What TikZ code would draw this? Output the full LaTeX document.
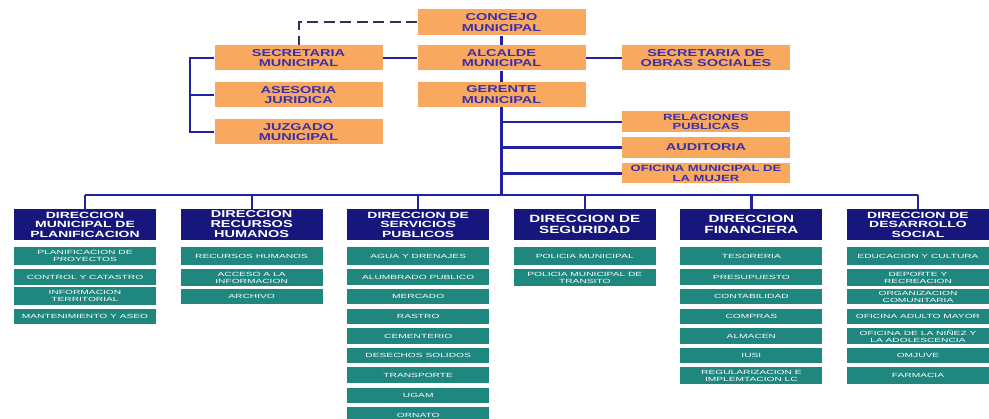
\documentclass[tikz,border=0pt]{standalone}
\usepackage{fontspec}
\setmainfont{Liberation Sans}
\newfontfamily\OrgSans[FakeStretch=1.45]{Liberation Sans}
\newfontfamily\DirSans[FakeStretch=1.55]{Liberation Sans}
\newfontfamily\SubSans[FakeStretch=1.7]{Liberation Sans}
\usetikzlibrary{backgrounds}
\definecolor{orng}{HTML}{F9A860}
\definecolor{ortxt}{HTML}{3B30A8}
\definecolor{navybox}{HTML}{16167C}
\definecolor{tealbox}{HTML}{20877F}
\definecolor{linec}{HTML}{2222A0}
\definecolor{dashc}{HTML}{33335A}
\newcommand\subnode[5]{\node[subbox,minimum height=#4pt] (#1) at (#2,#3) {#5};}
\def\cxA{85}\def\cxB{251.6}\def\cxC{418.2}\def\cxD{584.8}\def\cxE{751.4}\def\cxF{918}
\def\rA{256}\def\rB{277.5}\def\rC{296.5}\def\rD{316.5}\def\rE{336}
\def\rF{355.5}\def\rG{375.5}\def\rH{395.5}\def\rI{415}
\begin{document}
\begin{tikzpicture}[x=1pt,y=-1pt,
  orgbox/.style={fill=orng, text=ortxt, font=\OrgSans\bfseries\fontsize{10}{10.8}\selectfont,
    align=center, inner sep=0pt, minimum width=168pt, minimum height=25pt},
  orgsmall/.style={orgbox, font=\OrgSans\bfseries\fontsize{9}{9.4}\selectfont, minimum height=21pt},
  dirbox/.style={fill=navybox, text=white, font=\DirSans\bfseries\fontsize{9}{9.5}\selectfont,
    align=center, inner sep=0pt, minimum width=142pt, minimum height=31pt},
  dirbig/.style={dirbox, font=\OrgSans\bfseries\fontsize{10}{10}\selectfont},
  subbox/.style={fill=tealbox, text=white, font=\SubSans\fontsize{6}{7}\selectfont,
    align=center, inner sep=0pt, minimum width=142pt},
  conn/.style={draw=linec, line width=2.2pt},
  spine/.style={draw=navybox, line width=3pt},
  dashconn/.style={draw=dashc, line width=2pt, dash pattern=on 11pt off 5.5pt}]
\useasboundingbox[fill=white] (0,0) rectangle (989,419);

% top level
\node[orgbox, minimum height=26pt] (concejo) at (501.5,22.5) {CONCEJO\\MUNICIPAL};
\node[orgbox] (alcalde) at (501.5,58) {ALCALDE\\MUNICIPAL};
\node[orgbox] (gerente) at (501.5,94.5) {GERENTE\\MUNICIPAL};
\node[orgbox] (secmun) at (298.5,58) {SECRETARIA\\MUNICIPAL};
\node[orgbox] (asesoria) at (298.5,95) {ASESORIA\\JURIDICA};
\node[orgbox] (juzgado) at (298.5,132) {JUZGADO\\MUNICIPAL};
\node[orgbox] (obras) at (706,58) {SECRETARIA DE\\OBRAS SOCIALES};
\node[orgsmall] (relac) at (706,122) {RELACIONES\\PUBLICAS};
\node[orgsmall, font=\OrgSans\bfseries\fontsize{10}{10.8}\selectfont] (audit) at (706,147.5) {AUDITORIA};
\node[orgsmall, minimum height=20pt] (ofmujer) at (706,173.5) {OFICINA MUNICIPAL DE\\LA MUJER};

% direcciones
\node[dirbox] (dirA) at (\cxA,224.5) {DIRECCION\\MUNICIPAL DE\\PLANIFICACION};
\node[dirbig] (dirB) at (\cxB,224.5) {DIRECCION\\RECURSOS\\HUMANOS};
\node[dirbox] (dirC) at (\cxC,224.5) {DIRECCION DE\\SERVICIOS\\PUBLICOS};
\node[dirbig, font=\OrgSans\bfseries\fontsize{10.5}{11}\selectfont] (dirD) at (\cxD,224.5) {DIRECCION DE\\SEGURIDAD};
\node[dirbig, font=\OrgSans\bfseries\fontsize{10.5}{11}\selectfont] (dirE) at (\cxE,224.5) {DIRECCION\\FINANCIERA};
\node[dirbox] (dirF) at (\cxF,224.5) {DIRECCION DE\\DESARROLLO\\SOCIAL};

% column 1
\subnode{a1}{\cxA}{\rA}{18}{PLANIFICACION DE\\PROYECTOS}
\subnode{a2}{\cxA}{\rB}{16}{CONTROL Y CATASTRO}
\subnode{a3}{\cxA}{296}{18}{INFORMACION\\TERRITORIAL}
\subnode{a4}{\cxA}{\rD}{15}{MANTENIMIENTO Y ASEO}
% column 2
\subnode{b1}{\cxB}{\rA}{18}{RECURSOS HUMANOS}
\subnode{b2}{\cxB}{\rB}{17}{ACCESO A LA\\INFORMACION}
\subnode{b3}{\cxB}{\rC}{15}{ARCHIVO}
% column 3
\subnode{c1}{\cxC}{\rA}{18}{AGUA Y DRENAJES}
\subnode{c2}{\cxC}{\rB}{16}{ALUMBRADO PUBLICO}
\subnode{c3}{\cxC}{\rC}{15}{MERCADO}
\subnode{c4}{\cxC}{\rD}{15}{RASTRO}
\subnode{c5}{\cxC}{\rE}{16}{CEMENTERIO}
\subnode{c6}{\cxC}{\rF}{15}{DESECHOS SOLIDOS}
\subnode{c7}{\cxC}{\rG}{16}{TRANSPORTE}
\subnode{c8}{\cxC}{\rH}{15}{UGAM}
\subnode{c9}{\cxC}{\rI}{16}{ORNATO}
% column 4
\subnode{d1}{\cxD}{\rA}{18}{POLICIA MUNICIPAL}
\subnode{d2}{\cxD}{\rB}{17}{POLICIA MUNICIPAL DE\\TRANSITO}
% column 5
\subnode{e1}{\cxE}{\rA}{18}{TESORERIA}
\subnode{e2}{\cxE}{\rB}{16}{PRESUPUESTO}
\subnode{e3}{\cxE}{\rC}{15}{CONTABILIDAD}
\subnode{e4}{\cxE}{\rD}{15}{COMPRAS}
\subnode{e5}{\cxE}{\rE}{16}{ALMACEN}
\subnode{e6}{\cxE}{\rF}{15}{IUSI}
\subnode{e7}{\cxE}{\rG}{17}{REGULARIZACION E\\IMPLEMTACION LC}
% column 6
\subnode{f1}{\cxF}{\rA}{18}{EDUCACION Y CULTURA}
\subnode{f2}{\cxF}{\rB}{17}{DEPORTE Y\\RECREACION}
\subnode{f3}{\cxF}{\rC}{15}{ORGANIZACION\\COMUNITARIA}
\subnode{f4}{\cxF}{\rD}{15}{OFICINA ADULTO MAYOR}
\subnode{f5}{\cxF}{\rE}{16}{OFICINA DE LA NIÑEZ Y\\LA ADOLESCENCIA}
\subnode{f6}{\cxF}{\rF}{15}{OMJUVE}
\subnode{f7}{\cxF}{\rG}{17}{FARMACIA}

% connectors
\coordinate (bus) at (0,195);
\draw[dashconn] (concejo.west) -| (secmun.north);
\draw[conn] (concejo.south) -- (alcalde.north);
\draw[conn] (alcalde.south) -- (gerente.north);
\draw[conn] (secmun.east) -- (alcalde.west);
\draw[conn] (alcalde.east) -- (obras.west);
\draw[conn] (secmun.west) -- ++(-24,0) |- (juzgado.west);
\draw[conn] (asesoria.west) -- ++(-24,0);
\draw[conn] (gerente.south) -- (gerente.south |- bus);
\draw[conn] (gerente.south |- relac.west) -- (relac.west);
\draw[conn] (gerente.south |- audit.west) -- (audit.west);
\draw[conn] (gerente.south |- ofmujer.west) -- (ofmujer.west);
\draw[conn] (dirA.north |- bus) -- (dirF.north |- bus);
\foreach \d in {dirA,dirB,dirC,dirD,dirE,dirF}
  \draw[conn] (\d.north |- bus) -- (\d.north);
\begin{pgfonlayer}{background}
\draw[spine] (dirA.south) -- (a4.north);
\draw[spine] (dirB.south) -- (b3.north);
\draw[spine] (dirC.south) -- (c9.north);
\draw[spine] (dirD.south) -- (d2.north);
\draw[spine] (dirE.south) -- (e7.north);
\draw[spine] (dirF.south) -- (f7.north);
\end{pgfonlayer}
\end{tikzpicture}
\end{document}
